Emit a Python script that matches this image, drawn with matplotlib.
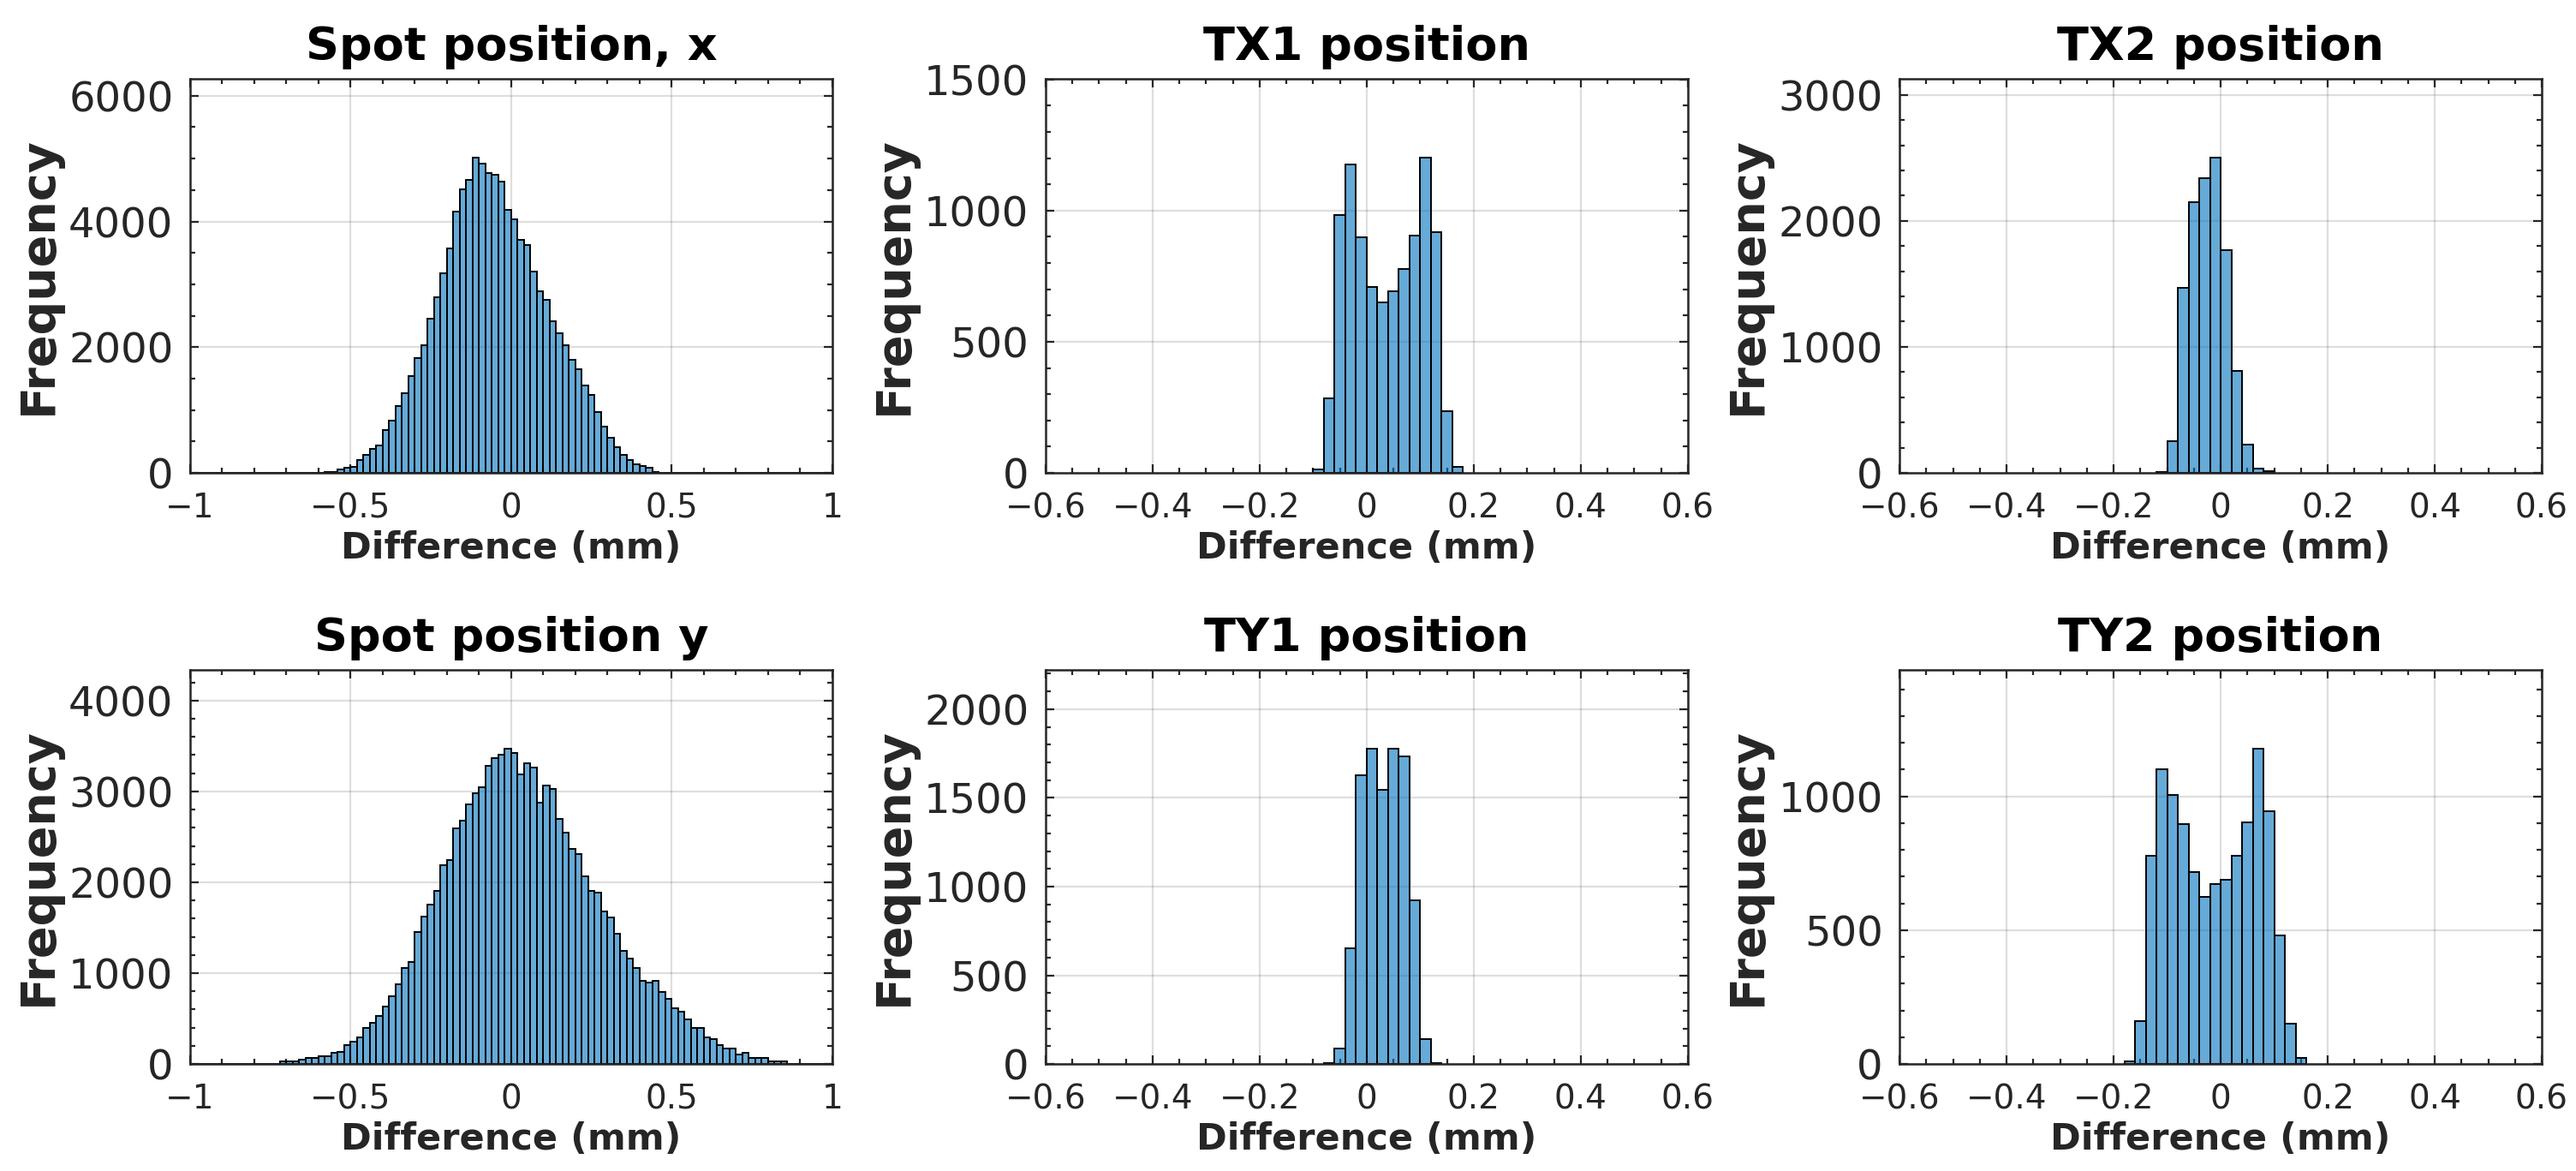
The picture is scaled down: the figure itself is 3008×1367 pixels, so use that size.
import numpy as np
import matplotlib
matplotlib.use('Agg')
import matplotlib.pyplot as plt
from matplotlib.ticker import MultipleLocator, FuncFormatter

# bin width of all histograms (mm)
bw = 0.02

# Spot position, x : bins from -1.00 to 1.00
spot_x_start = -1.00
spot_x_counts = [0, 0, 0, 0, 0, 0, 0, 0, 0, 0,
                 0, 3, 4, 3, 0, 0, 2, 3, 4, 5,
                 6, 8, 12, 50, 77, 100, 204, 281, 381, 431,
                 680, 834, 1061, 1270, 1542, 1823, 2027, 2458, 2789, 3170,
                 3574, 4154, 4512, 4657, 5016, 4916, 4766, 4739, 4635, 4181,
                 4032, 3705, 3623, 3197, 2889, 2757, 2408, 2227, 2027, 1796,
                 1651, 1392, 1238, 961, 735, 553, 404, 281, 204, 132,
                 109, 77, 8, 6, 5, 4, 3, 3, 2, 2,
                 2, 2, 0, 0, 2, 2, 2, 2, 2, 2,
                 2, 2, 0, 0, 2, 2, 2, 2, 2, 2]

# Spot position y : bins from -1.00 to 1.00
spot_y_start = -1.00
spot_y_counts = [3, 3, 3, 3, 3, 3, 3, 3, 3, 3,
                 3, 3, 3, 3, 28, 28, 28, 47, 66, 66,
                 85, 85, 122, 135, 207, 242, 295, 399, 452, 524,
                 628, 747, 876, 1052, 1121, 1451, 1627, 1752, 1909, 2192,
                 2242, 2591, 2678, 2854, 2980, 3049, 3278, 3366, 3401, 3470,
                 3419, 3190, 3313, 3262, 2873, 3068, 3030, 2700, 2543, 2368,
                 2314, 2066, 1909, 1890, 1683, 1611, 1435, 1243, 1156, 1052,
                 911, 895, 911, 788, 716, 612, 575, 487, 399, 399,
                 292, 276, 207, 173, 173, 100, 119, 66, 66, 66,
                 28, 28, 28, 3, 3, 3, 3, 3, 3, 3]

# TX1 position
tx1_start = -0.10
tx1_counts = [12, 285, 984, 1177, 898, 710, 649, 691, 777, 904, 1202, 917, 236, 24]

# TX2 position
tx2_start = -0.12
tx2_counts = [9, 251, 1466, 2149, 2339, 2502, 1769, 808, 224, 36, 11]

# TY1 position
ty1_start = -0.08
ty1_counts = [6, 88, 653, 1626, 1777, 1544, 1777, 1733, 923, 142, 6]

# TY2 position
ty2_start = -0.18
ty2_counts = [10, 159, 779, 1101, 1005, 898, 718, 624, 671, 689,
              779, 903, 1178, 946, 481, 152, 22]

titles = ['Spot position, x', 'TX1 position', 'TX2 position',
          'Spot position y', 'TY1 position', 'TY2 position']
starts = [spot_x_start, tx1_start, tx2_start, spot_y_start, ty1_start, ty2_start]
counts = [spot_x_counts, tx1_counts, tx2_counts, spot_y_counts, ty1_counts, ty2_counts]
xlims = [(-1, 1), (-0.6, 0.6), (-0.6, 0.6), (-1, 1), (-0.6, 0.6), (-0.6, 0.6)]
xmaj = [0.5, 0.2, 0.2, 0.5, 0.2, 0.2]
xmin = [0.1, 0.05, 0.05, 0.1, 0.05, 0.05]
ymaj = [2000, 500, 1000, 1000, 500, 500]
ymin = [500, 100, 200, 200, 100, 100]

dark = '#262626'
face = (0.0, 0.447, 0.741, 0.6)

plt.rcParams['font.family'] = 'DejaVu Sans'

fig = plt.figure(figsize=(15.04, 6.835), dpi=200)

lefts = [0.0738, 0.4059, 0.7374]
bottoms = [0.5962, 0.0914]
w = 0.2493
h = 0.3365


def fmt_x(v, pos):
    s = '%g' % (round(v, 6) + 0.0)
    return s.replace('-', '\u2212')


for k in range(6):
    r, c = divmod(k, 3)
    ax = fig.add_axes([lefts[c], bottoms[r], w, h])
    cnt = np.array(counts[k], dtype=float)
    edges = starts[k] + bw * np.arange(len(cnt) + 1)
    ax.hist(edges[:-1] + bw / 2, bins=edges, weights=cnt,
            facecolor=face, edgecolor='k', linewidth=0.7)
    ax.set_xlim(*xlims[k])
    ax.set_ylim(0, 1.25 * cnt.max())
    ax.xaxis.set_major_locator(MultipleLocator(xmaj[k]))
    ax.xaxis.set_minor_locator(MultipleLocator(xmin[k]))
    ax.yaxis.set_major_locator(MultipleLocator(ymaj[k]))
    ax.yaxis.set_minor_locator(MultipleLocator(ymin[k]))
    ax.xaxis.set_major_formatter(FuncFormatter(fmt_x))
    ax.yaxis.set_major_formatter(FuncFormatter(lambda v, p: '%d' % v))
    ax.set_axisbelow(True)
    ax.grid(True, which='major', color=(0.15, 0.15, 0.15), alpha=0.15, linewidth=0.8)
    ax.tick_params(which='both', direction='in', top=True, right=True,
                   colors=dark, width=0.8)
    ax.tick_params(which='major', length=3.5)
    ax.tick_params(which='minor', length=2.2)
    ax.tick_params(axis='x', labelsize=14, pad=8)
    ax.tick_params(axis='y', labelsize=17.3, pad=7)
    for sp in ax.spines.values():
        sp.set_color(dark)
        sp.set_linewidth(0.9)
    ax.set_title(titles[k], fontsize=19.5, fontweight='bold', pad=8)
    ax.set_xlabel('Difference (mm)', fontsize=15.5, fontweight='bold',
                  color=dark, labelpad=2.5)
    ax.set_ylabel('Frequency', fontsize=20, fontweight='bold',
                  color=dark, labelpad=3)

fig.savefig('out.png', dpi=200, facecolor='white')
